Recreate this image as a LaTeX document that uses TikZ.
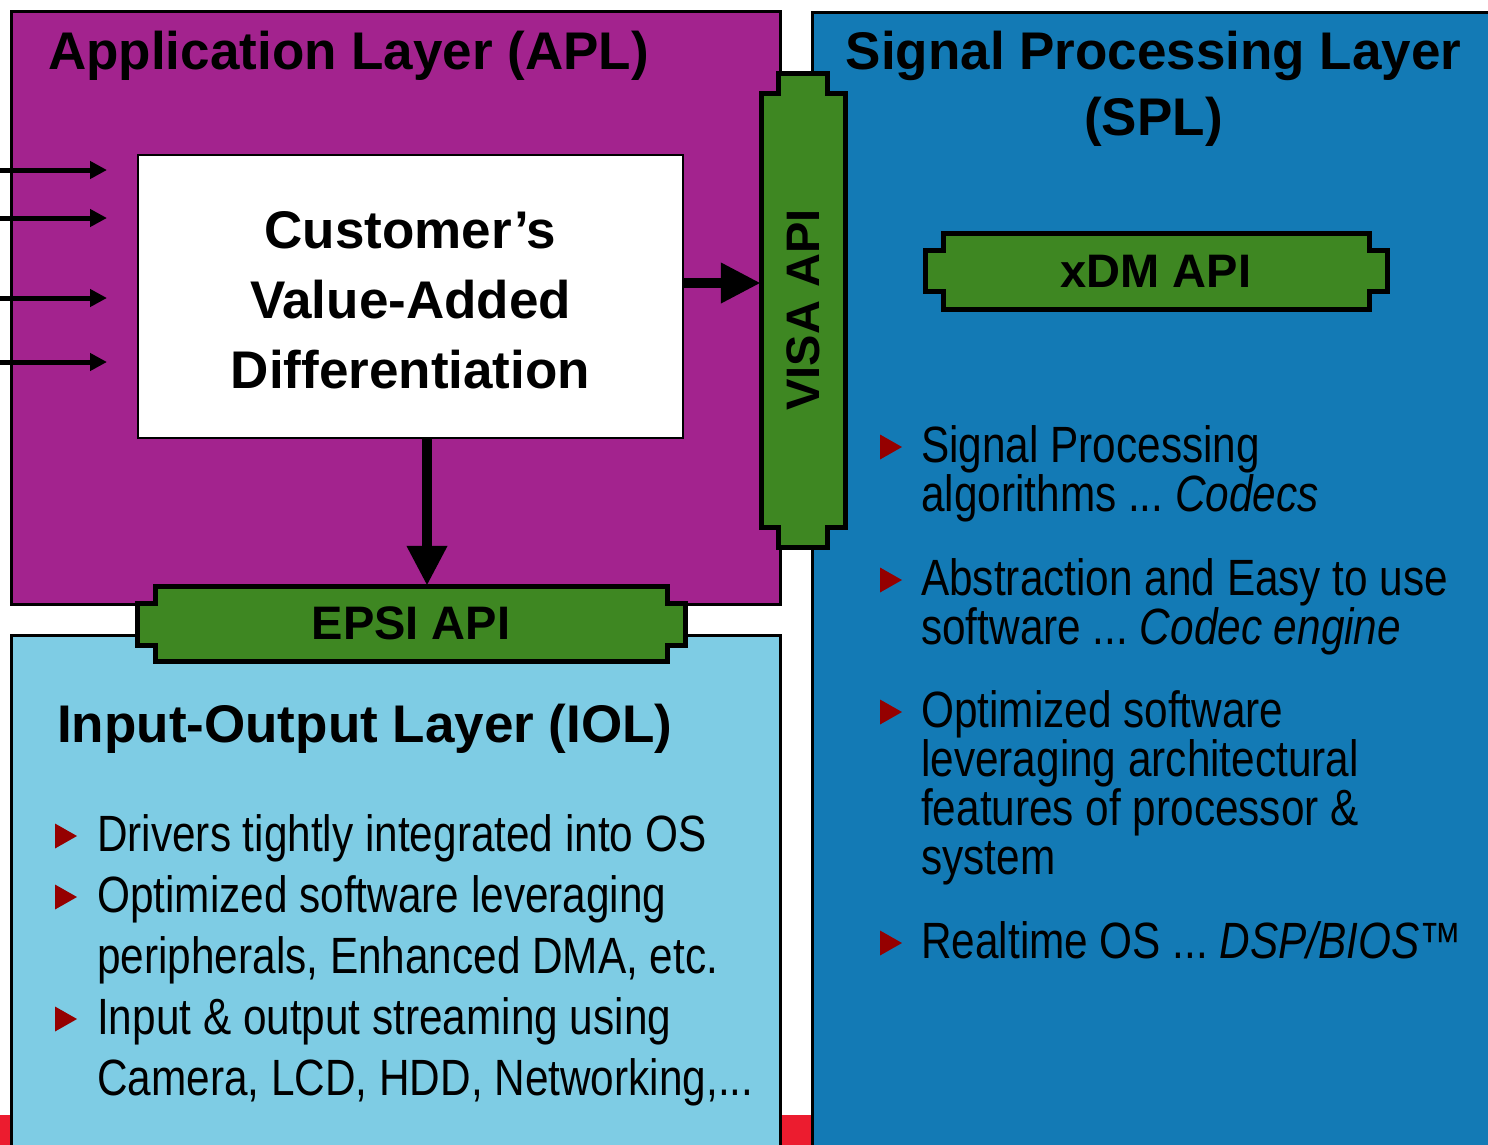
\documentclass[tikz,border=0pt]{standalone}
\usepackage{fontspec}
\setmainfont{Liberation Sans}
\newfontfamily\narrowfont[FakeStretch=0.83]{Liberation Sans}
\usepackage{xcolor}
\usepackage{tikz}
\usetikzlibrary{arrows.meta}

\definecolor{aplpurple}{HTML}{A3238E}
\definecolor{splblue}{HTML}{137AB5}
\definecolor{iolblue}{HTML}{7ECCE4}
\definecolor{apigreen}{HTML}{3E8722}
\definecolor{stripred}{HTML}{EC1C2F}
\definecolor{bulletred}{HTML}{950000}

\tikzset{
  layerbox/.style={rectangle, draw=black, line width=3pt, anchor=north west, inner sep=0pt},
  layertitle/.style={font=\fontsize{53}{60}\selectfont\bfseries, inner sep=0pt},
  apibody/.style={fill=apigreen, draw=black, line width=5pt},
  apilabel/.style={rectangle, inner sep=0pt, font=\fontsize{47}{50}\selectfont\bfseries},
  inarrow/.style={line width=5pt, -{Triangle[length=17pt,width=17pt]}},
  bigarrow/.style={line width=10pt, -{Triangle[length=40pt,width=38pt]}},
  splitem/.style={anchor=base west, inner sep=0pt, text width=600pt, align=left, font=\narrowfont\fontsize{51}{49}\selectfont, execute at begin node={\spaceskip=0.23em\xspaceskip=0.23em\relax}},
  iolitem/.style={splitem, text width=700pt, font=\narrowfont\fontsize{51}{61}\selectfont},
  pics/bullettri/.style={code={\fill[bulletred] (-11,-12.5) -- (11,0) -- (-11,12.5) -- cycle;}}
}

\begin{document}
\begin{tikzpicture}[x=1pt, y=-1pt]
\useasboundingbox (0,0) rectangle (1488,1144);

% strip along the bottom
\fill[stripred] (0,1115) rectangle (812,1150);

% the three layers
\node (apl) [layerbox, fill=aplpurple, minimum width=769pt, minimum height=593pt] at (10,10) {};
\node (spl) [layerbox, fill=splblue, minimum width=700pt, minimum height=1160pt] at (811,11) {};
\node (iol) [layerbox, fill=iolblue, minimum width=769pt, minimum height=530pt] at (10,634) {};

\node (cva) [rectangle, draw=black, line width=2pt, fill=white, minimum width=545pt, minimum height=283pt] at (410.5,296.5) {};
\node (cvatext) [align=center, inner sep=0pt, font=\fontsize{53}{70}\selectfont\bfseries] at (410.5,300.5) {Customer’s\\Value-Added\\Differentiation};

% API connectors
\filldraw[apibody] (155,586) -| (667,603) -| (685,645) -| (667,661) -| (155,645) -| (137,603) -| (155,586) -- cycle;
\node (epsi) [apilabel, minimum width=512pt, minimum height=75pt] at (411,623.5) {EPSI API};

\filldraw[apibody] (761,93) -| (778,73) -| (827,93) -| (845,527) -| (827,547) -| (778,527) -| (761,93) -- cycle;
\node (visa) [apilabel, minimum width=84pt, minimum height=434pt] at (803,310) {\rotatebox{90}{VISA API}};

\filldraw[apibody] (943,233) -| (1369,250) -| (1387,291) -| (1369,309) -| (943,291) -| (925,250) -| (943,233) -- cycle;
\node (xdm) [apilabel, minimum width=426pt, minimum height=76pt] at (1156,271) {xDM API};

% inputs from the left
\coordinate (in1) at (-5,170);
\coordinate (to1) at (107,170);
\coordinate (in2) at (-5,218);
\coordinate (to2) at (107,218);
\coordinate (in3) at (-5,298);
\coordinate (to3) at (107,298);
\coordinate (in4) at (-5,362);
\coordinate (to4) at (107,362);
\draw[inarrow] (in1) -- (to1);
\draw[inarrow] (in2) -- (to2);
\draw[inarrow] (in3) -- (to3);
\draw[inarrow] (in4) -- (to4);

\draw[bigarrow] ([yshift=13.5pt]cva.east) -- ([yshift=13.5pt]cva.east -| visa.west);
\draw[bigarrow] ([xshift=16.5pt]cva.south) -- ([xshift=16.5pt]cva.south |- epsi.north);

% titles
\node (apltitle) [layertitle, anchor=base west] at (48,69) {Application Layer (APL)};
\node (spltitle) [layertitle, anchor=base] at (1153.5,69) {Signal Processing Layer};
\node (spltag) [layertitle, anchor=base] at (1153.5,135) {(SPL)};
\node (ioltitle) [layertitle, anchor=base west] at (57,742) {Input-Output Layer (IOL)};

% signal processing items
\node (sp1) [splitem] at (921,462) {Signal Processing\\algorithms ... \textit{Codecs}};
\node (sp2) [splitem] at (921,595) {Abstraction and Easy to use\\software ... \textit{Codec engine}};
\node (sp3) [splitem] at (921,727) {Optimized software\\leveraging architectural\\features of processor \&\\system};
\node (sp4) [splitem] at (921,958) {Realtime OS ... \textit{DSP/BIOS™}};
\pic at ([shift={(-30,-15)}]sp1.base west) {bullettri};
\pic at ([shift={(-30,-15)}]sp2.base west) {bullettri};
\pic at ([shift={(-30,-15)}]sp3.base west) {bullettri};
\pic at ([shift={(-30,-15)}]sp4.base west) {bullettri};

% input-output items
\node (io1) [iolitem] at (97,851) {Drivers tightly integrated into OS};
\node (io2) [iolitem] at (97,912) {Optimized software leveraging\\peripherals, Enhanced DMA, etc.};
\node (io3) [iolitem] at (97,1034) {Input \& output streaming using\\Camera, LCD, HDD, Networking,...};
\pic at ([shift={(-31,-15)}]io1.base west) {bullettri};
\pic at ([shift={(-31,-15)}]io2.base west) {bullettri};
\pic at ([shift={(-31,-15)}]io3.base west) {bullettri};

\end{tikzpicture}
\end{document}
